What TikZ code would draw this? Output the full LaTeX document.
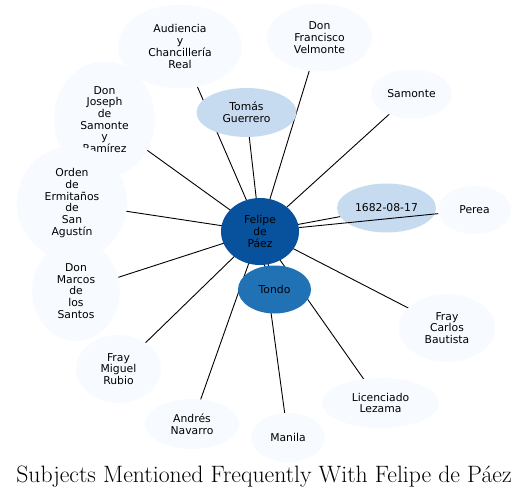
\documentclass[tikz,border=0pt]{standalone}
\usepackage{fontspec}
\setsansfont{DejaVu Sans}
\usetikzlibrary{shapes.geometric,backgrounds}
\definecolor{subjdeep}{HTML}{08519C}
\definecolor{subjmid}{HTML}{2171B5}
\definecolor{subjlite}{HTML}{C6DBEF}
\definecolor{subjpale}{HTML}{F7FBFF}
\tikzset{
  ent/.style={ellipse, inner sep=0pt, align=center, text=black, font=\sffamily\fontsize{10.8}{11.7}\selectfont},
  hub/.style={ent, fill=subjdeep},
  near/.style={ent, fill=subjmid},
  lite/.style={ent, fill=subjlite},
  pale/.style={ent, fill=subjpale},
  lnk/.style={draw=black, line width=0.9pt},
}

\begin{document}
\begin{tikzpicture}[x=1pt, y=-1pt]
  \useasboundingbox (0,0) rectangle (528,498);
  % centre and ring
  \node[hub, minimum width=78pt, minimum height=67pt] (felipe) at (260,231.5) {Felipe\\de\\Páez};
  \node[pale, minimum width=124pt, minimum height=84pt] (audiencia) at (180,46.5) {Audiencia\\y\\Chancillería\\Real};
  \node[pale, minimum width=105pt, minimum height=68pt] (velmonte) at (319.5,37.5) {Don\\Francisco\\Velmonte};
  \node[lite, minimum width=100pt, minimum height=49pt] (tomas) at (246.5,112.5) {Tomás\\Guerrero};
  \node[pale, minimum width=81pt, minimum height=49pt] (samonte) at (411.5,94) {Samonte};
  \node[pale, minimum width=101pt, minimum height=116pt] (joseph) at (104.5,119.5) {Don\\Joseph\\de\\Samonte\\y\\Ramírez};
  \node[pale, minimum width=88pt, minimum height=100pt] (marcos) at (76,291) {Don\\Marcos\\de\\los\\Santos};
  \node[pale, minimum width=110pt, minimum height=114pt] (orden) at (72,203) {Orden\\de\\Ermitaños\\de\\San\\Agustín};
  \node[lite, minimum width=99pt, minimum height=49pt] (fecha) at (386.5,208) {1682-08-17};
  \node[near, minimum width=73pt, minimum height=48pt] (tondo) at (274.5,289.5) {Tondo};
  \node[pale, minimum width=96pt, minimum height=68pt] (carlos) at (447,328) {Fray\\Carlos\\Bautista};
  \node[pale, minimum width=85pt, minimum height=68pt] (miguel) at (118.5,369) {Fray\\Miguel\\Rubio};
  \node[pale, minimum width=117pt, minimum height=50pt] (lezama) at (380.5,403) {Licenciado\\Lezama};
  \node[pale, minimum width=94pt, minimum height=50pt] (navarro) at (192,424) {Andrés\\Navarro};
  \node[pale, minimum width=74pt, minimum height=49pt] (manila) at (288,437.5) {Manila};
  \node[pale, minimum width=73pt, minimum height=48pt] (perea) at (474.5,210) {Perea};
  % links under the nodes
  \begin{scope}[on background layer]
    \foreach \n in {audiencia,velmonte,tomas,samonte,joseph,orden,marcos,fecha,tondo,carlos,miguel,lezama,navarro,manila}
      \draw[lnk] (felipe.center) -- (\n.center);
  \end{scope}
  % this one runs over the date
  \draw[lnk] (felipe) -- (perea);
  \node[anchor=base, font=\fontsize{23.7}{28}\selectfont] (title) at (264,482) {Subjects Mentioned Frequently With Felipe de Páez};
\end{tikzpicture}
\end{document}
